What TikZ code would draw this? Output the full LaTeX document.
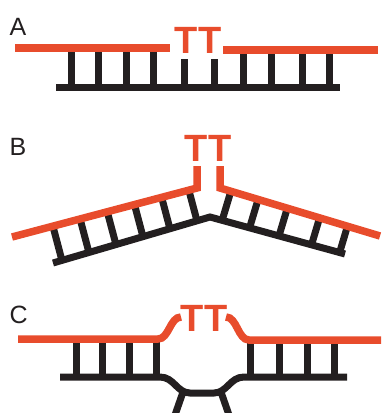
\documentclass[tikz,border=0pt]{standalone}
\usepackage{fontspec}
\setmainfont{Liberation Sans}
\usetikzlibrary{calc}

\definecolor{dnared}{RGB}{232,76,44}
\definecolor{dnablack}{RGB}{35,31,32}

\begin{document}
\begin{tikzpicture}[x=1pt, y=-1pt]
      \tikzstyle{STY1} = [anchor=base west, inner sep=0pt, font=\fontsize{25}{25}\selectfont, text=dnablack]
      \tikzstyle{STY2} = [anchor=base, inner sep=0pt, font=\fontsize{38}{38}\selectfont\bfseries, text=dnared]
      \tikzstyle{STY3} = [draw=dnared, line width=7.5pt]
      \tikzstyle{STY4} = [draw=dnablack, line width=7pt]

      \useasboundingbox (0,0) rectangle (381,413);

      %%%%% A : straight duplex

      \node[STY1](labA) at (9.5, 35) {A};
      \node[STY2](ttA) at (198, 53) {TT};

      \foreach \x in {71, 98, 126, 153, 243, 271, 302, 329}
        \draw[STY4] (\x, 48) -- (\x, 87);
      \foreach \x in {184, 214}
        \draw[STY4] (\x, 59) -- (\x, 87);

      \draw[STY4] (56, 87) -- (340, 87);
      \draw[STY3] (15, 48) -- (170, 48);
      \draw[STY3] (223, 50) -- (378, 50);

      %%%%% B : kinked duplex

      \node[STY1](labB) at (9.5, 155) {B};
      \node[STY2](ttB) at (208, 161) {TT};

      \coordinate (bRL) at (12, 237);
      \coordinate (bRA) at (197, 188);
      \coordinate (bRB) at (220, 188);
      \coordinate (bRR) at (380, 236);
      \coordinate (bKL) at (53, 263);
      \coordinate (bK) at (210, 217);
      \coordinate (bKR) at (345, 254);

      \foreach \t in {0.057, 0.229, 0.401, 0.573, 0.745, 0.917} {
        \coordinate (p) at ($(bKL)!\t!(bK)$);
        \draw[STY4] (p) -- ($(bRL)!(p)!(bRA)$);
      }
      \foreach \t in {0.09, 0.293, 0.511, 0.752, 0.96} {
        \coordinate (p) at ($(bK)!\t!(bKR)$);
        \draw[STY4] (p) -- ($(bRB)!(p)!(bRR)$);
      }

      \draw[STY4] (bKL) -- (bK) -- (bKR);
      \draw[STY3] (bRL) -- (bRA) -- (197, 166);
      \draw[STY3] (220, 166) -- (bRB) -- (bRR);

      %%%%% C : bubble

      \node[STY1](labC) at (9.5, 323) {C};
      \node[STY2](ttC) at (204, 331) {TT};

      \foreach \x in {76, 102, 129, 156}
        \draw[STY4] (\x, 339) -- (\x, 377);
      \foreach \x in {250, 279, 307, 334}
        \draw[STY4] (\x, 340) -- (\x, 377);

      \draw[STY4] (60, 377) -- (160, 377) .. controls (174, 377) and (177, 393) .. (190, 393)
        -- (214, 393) .. controls (227, 393) and (230, 377) .. (244, 377) -- (347, 377);
      \draw[STY4] (183, 392) -- (175, 415);
      \draw[STY4] (221, 392) -- (229, 415);

      \draw[STY3] (18, 339) -- (158, 339) .. controls (169, 339) and (170, 317) .. (181, 317);
      \draw[STY3] (226, 317) .. controls (237, 317) and (238, 340) .. (249, 340) -- (381, 340);
\end{tikzpicture}
\end{document}
